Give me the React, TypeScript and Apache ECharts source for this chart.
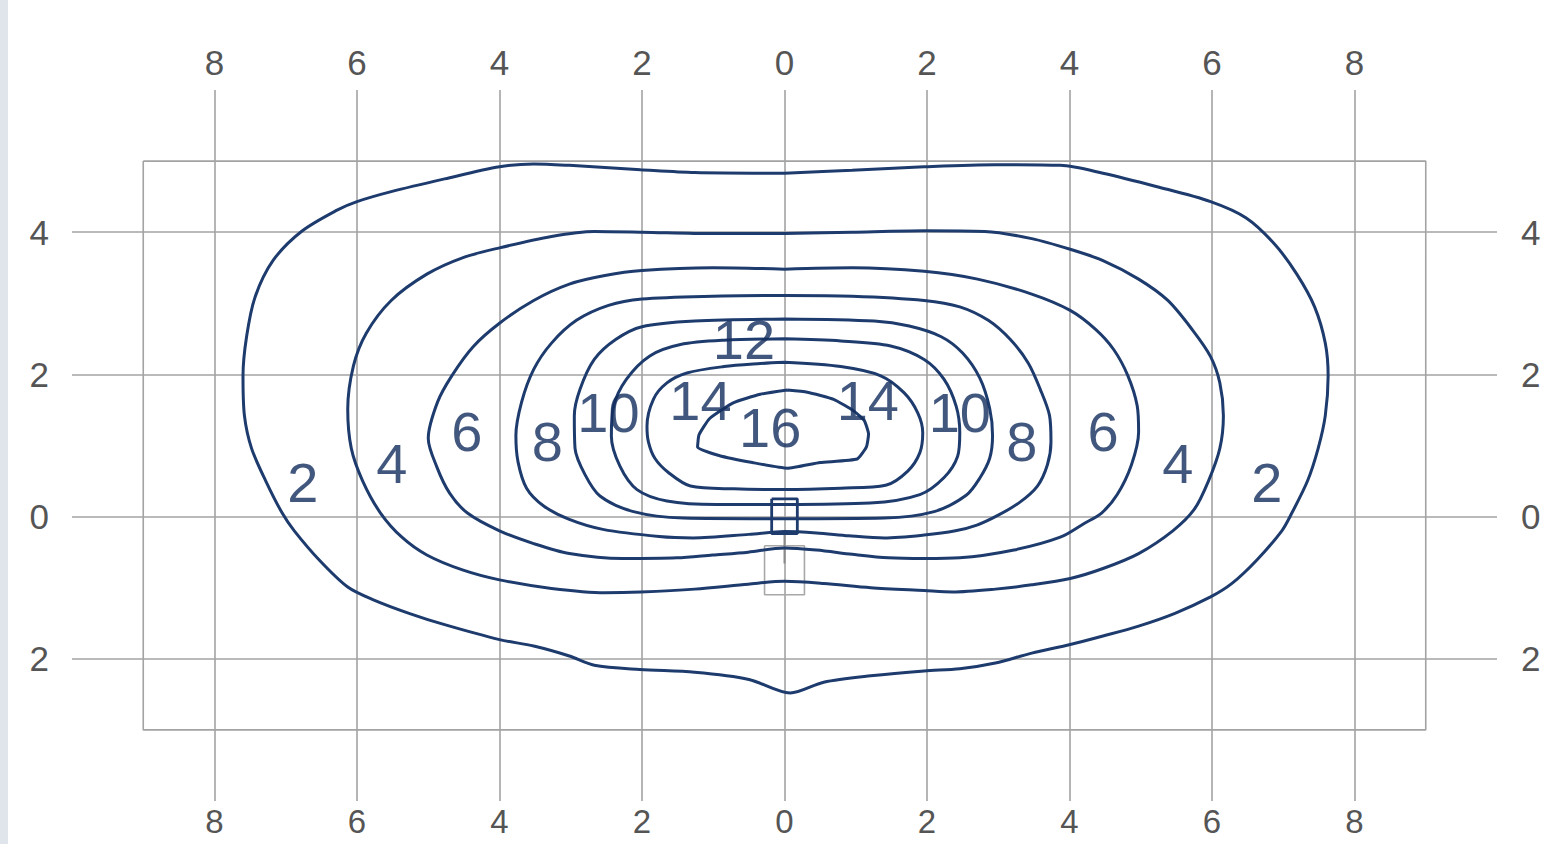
import React, { useEffect, useRef } from "react";
import * as echarts from "echarts";

// ---- data (metres, values) ----
const xRange = [-10, 10];
const yRange = [-4, 6];
const tickStep = 2;

const contourLevels = [2, 4, 6, 8, 10, 12, 14, 16];

const contour2: [number, number][] = [
  [0, 4.83], [0.95, 4.87], [1.96, 4.92], [2.96, 4.95], [3.87, 4.94], [4.47, 4.83], [5.23, 4.64],
  [5.98, 4.43], [6.48, 4.2], [6.88, 3.83], [7.19, 3.41], [7.44, 2.95], [7.59, 2.44], [7.63, 1.98],
  [7.59, 1.42], [7.49, 0.96], [7.34, 0.5], [7.12, 0.05], [6.98, -0.2], [6.63, -0.61], [6.28, -0.94],
  [5.98, -1.13], [5.48, -1.36], [4.97, -1.54], [4.47, -1.68], [4.01, -1.8], [3.47, -1.92],
  [2.96, -2.06], [2.46, -2.14], [1.96, -2.17], [1.21, -2.24], [0.55, -2.33], [0.08, -2.48],
  [-0.5, -2.29], [-1.26, -2.19], [-2.03, -2.15], [-2.67, -2.09], [-3.02, -1.96], [-3.52, -1.82],
  [-4, -1.73], [-4.77, -1.52], [-5.27, -1.36], [-5.77, -1.17], [-6.13, -0.99], [-6.53, -0.61],
  [-6.88, -0.2], [-7.05, 0.05], [-7.28, 0.5], [-7.48, 0.96], [-7.58, 1.42], [-7.6, 1.98],
  [-7.55, 2.53], [-7.43, 3.09], [-7.18, 3.6], [-6.78, 4.01], [-6.28, 4.31], [-6, 4.43],
  [-5.52, 4.57], [-4.77, 4.75], [-4, 4.92], [-3.52, 4.96], [-3.02, 4.94], [-2.02, 4.88],
  [-1.26, 4.84], [0, 4.83],
];

const contour4: [number, number][] = [
  [0, 3.98], [0.95, 4.0], [1.96, 4.02], [2.81, 4.01], [3.47, 3.91], [4.01, 3.76], [4.47, 3.6],
  [4.97, 3.34], [5.38, 3.04], [5.73, 2.62], [5.98, 2.25], [6.11, 1.88], [6.16, 1.42], [6.11, 0.96],
  [5.95, 0.5], [5.75, 0.1], [5.45, -0.2], [4.97, -0.52], [4.47, -0.73], [4.01, -0.87], [3.47, -0.96],
  [2.96, -1.02], [2.36, -1.06], [1.96, -1.04], [1.21, -1.0], [0.55, -0.94], [0, -0.91],
  [-0.51, -0.95], [-1.26, -1.02], [-2.02, -1.06], [-2.52, -1.07], [-3.27, -1.01], [-4, -0.89],
  [-4.52, -0.75], [-5.02, -0.54], [-5.37, -0.29], [-5.67, 0.05], [-5.92, 0.5], [-6.08, 0.96],
  [-6.13, 1.51], [-6.05, 2.12], [-5.87, 2.58], [-5.52, 3.04], [-5.02, 3.41], [-4.52, 3.64],
  [-4, 3.78], [-3.27, 3.94], [-2.67, 4.01], [-2, 4.0], [-1.01, 3.98], [0, 3.98],
];

const contour6: [number, number][] = [
  [0, 3.48], [0.95, 3.5], [1.96, 3.45], [2.71, 3.34], [3.47, 3.13], [4.01, 2.9], [4.37, 2.63],
  [4.62, 2.35], [4.82, 1.98], [4.95, 1.56], [4.97, 1.19], [4.87, 0.73], [4.67, 0.31], [4.45, 0.05],
  [4.2, -0.1], [3.87, -0.29], [3.22, -0.47], [2.46, -0.58], [1.96, -0.59], [1.46, -0.58],
  [0.95, -0.53], [0.45, -0.47], [0, -0.44], [-0.51, -0.5], [-1.01, -0.54], [-1.51, -0.58],
  [-2.27, -0.59], [-3.02, -0.52], [-3.52, -0.38], [-4, -0.2], [-4.45, 0.05], [-4.7, 0.33],
  [-4.88, 0.7], [-5.0, 1.1], [-4.87, 1.61], [-4.67, 1.98], [-4.37, 2.39], [-4, 2.72],
  [-3.52, 3.04], [-3.02, 3.27], [-2.52, 3.39], [-2, 3.46], [-1.01, 3.5], [0, 3.48],
];

const contour8: [number, number][] = [
  [0, 3.11], [0.95, 3.1], [1.96, 3.04], [2.46, 2.95], [2.86, 2.76], [3.17, 2.49], [3.42, 2.16],
  [3.59, 1.79], [3.72, 1.42], [3.74, 1.05], [3.69, 0.73], [3.55, 0.43], [3.3, 0.2], [3.0, 0.02],
  [2.7, -0.12], [2.4, -0.2], [1.96, -0.26], [1.4, -0.3], [0.9, -0.27], [0.45, -0.23], [0, -0.21],
  [-0.5, -0.25], [-1.28, -0.3], [-1.76, -0.28], [-2.55, -0.18], [-3.02, -0.04], [-3.38, 0.15],
  [-3.62, 0.4], [-3.74, 0.77], [-3.77, 1.14], [-3.69, 1.61], [-3.52, 2.07], [-3.27, 2.44],
  [-2.92, 2.76], [-2.47, 2.97], [-2, 3.06], [-1.01, 3.1], [0, 3.11],
];

const contour10: [number, number][] = [
  [0, 2.78], [1.26, 2.75], [1.75, 2.68], [2.2, 2.53], [2.5, 2.3], [2.74, 1.95], [2.88, 1.52],
  [2.92, 1.14], [2.88, 0.82], [2.74, 0.54], [2.55, 0.3], [2.1, 0.07], [1.4, -0.02], [0, -0.03],
  [-1.42, -0.02], [-2.12, 0.07], [-2.59, 0.29], [-2.8, 0.59], [-2.94, 0.96], [-2.95, 1.42],
  [-2.87, 1.79], [-2.67, 2.21], [-2.37, 2.49], [-2, 2.67], [-1.26, 2.75], [0, 2.78],
];

const contour12: [number, number][] = [
  [0, 2.5], [0.79, 2.47], [1.49, 2.4], [1.96, 2.21], [2.24, 1.93], [2.41, 1.55], [2.46, 1.18],
  [2.43, 0.85], [2.24, 0.55], [1.9, 0.31], [1.2, 0.19], [0, 0.17], [-0.95, 0.17], [-1.65, 0.22],
  [-2.07, 0.38], [-2.31, 0.71], [-2.43, 1.13], [-2.4, 1.55], [-2.22, 1.93], [-1.89, 2.26],
  [-1.46, 2.42], [-0.85, 2.48], [0, 2.5],
];

const contour14: [number, number][] = [
  [0, 2.17], [0.79, 2.11], [1.35, 1.98], [1.68, 1.74], [1.87, 1.46], [1.94, 1.18], [1.9, 0.9],
  [1.73, 0.64], [1.42, 0.44], [0.79, 0.4], [0, 0.38], [-0.71, 0.39], [-1.32, 0.43], [-1.63, 0.62],
  [-1.82, 0.82], [-1.91, 1.05], [-1.93, 1.27], [-1.84, 1.65], [-1.65, 1.88], [-1.37, 2.02],
  [-0.85, 2.11], [-0.38, 2.15], [0, 2.17],
];

const contour16: [number, number][] = [
  [0.04, 1.78], [0.32, 1.75], [0.69, 1.65], [0.98, 1.48], [1.12, 1.35], [1.18, 1.16], [1.15, 0.98],
  [1.02, 0.81], [0.5, 0.76], [0.04, 0.68], [-0.45, 0.76], [-0.92, 0.86], [-1.22, 0.98],
  [-1.2, 1.15], [-1.05, 1.38], [-0.72, 1.6], [-0.34, 1.72], [0.04, 1.78],
];

const contours = [contour2, contour4, contour6, contour8, contour10, contour12, contour14, contour16];

const labelX = [-6.76, -5.51, -4.46, -3.33, -2.47, -1.18, -0.2, -0.57, 1.17, 2.46, 3.33, 4.47, 5.52, 6.77];
const labelY = [0.48, 0.75, 1.2, 1.06, 1.47, 1.63, 1.25, 2.49, 1.63, 1.47, 1.06, 1.2, 0.75, 0.48];
const labelText = ["2", "4", "6", "8", "10", "14", "16", "12", "14", "10", "8", "6", "4", "2"];

const fieldRect: [number, number][] = [[-9, 5], [9, 5], [9, -3], [-9, -3], [-9, 5]];
const lampBody: [number, number][] = [[-0.18, 0.25], [0.18, 0.25], [0.18, -0.24], [-0.18, -0.24], [-0.18, 0.25]];
const lampBase: [number, number][] = [[-0.28, -0.41], [0.28, -0.41], [0.28, -1.1], [-0.28, -1.1], [-0.28, -0.41]];
const lampStem: [number, number][] = [[0, -0.24], [0, -0.66]];
const lampCross: [number, number][] = [[-0.08, -0.44], [0.08, -0.44]];

const NAVY = "#1e3b6e";
const LABEL = "#132d5c";
const GRID = "#a3a3a3";
const TICK = "#555555";
const FONT = "'Liberation Sans', Arial, sans-serif";

export default function App() {
  const ref = useRef<HTMLDivElement>(null);

  useEffect(() => {
    document.body.style.margin = "0";
    document.body.style.overflow = "hidden";
    if (!ref.current) return;
    const chart = echarts.init(ref.current, undefined, { renderer: "svg" });

    const absFmt = (v: number) => String(Math.abs(v));
    const axisLabel = (margin: number, size: number) => ({
      formatter: absFmt,
      showMinLabel: false,
      showMaxLabel: false,
      fontSize: size,
      color: TICK,
      fontFamily: FONT,
      margin,
    });
    const splitLine = (show: boolean) => ({
      show,
      showMinLine: false,
      showMaxLine: false,
      lineStyle: { color: GRID, width: 1.6 },
    });
    const baseX = (position: "top" | "bottom", margin: number, split: boolean, size: number) => ({
      type: "value",
      position,
      min: xRange[0],
      max: xRange[1],
      interval: tickStep,
      axisLine: { show: false },
      axisTick: { show: false },
      axisLabel: axisLabel(margin, size),
      splitLine: splitLine(split),
    });
    const baseY = (position: "left" | "right", margin: number, split: boolean) => ({
      type: "value",
      position,
      min: yRange[0],
      max: yRange[1],
      interval: tickStep,
      axisLine: { show: false },
      axisTick: { show: false },
      axisLabel: axisLabel(margin, 35),
      splitLine: splitLine(split),
    });

    const lineSeries = (data: [number, number][], color: string, width: number, smooth: number | boolean, z: number) => ({
      type: "line",
      data,
      xAxisIndex: 0,
      yAxisIndex: 0,
      showSymbol: false,
      symbol: "none",
      smooth,
      silent: true,
      z,
      lineStyle: { color, width },
    });

    const series: any[] = [
      lineSeries(fieldRect, GRID, 1.6, false, 2),
      lineSeries(lampBase, "#a8a8a8", 1.6, false, 2),
      lineSeries(lampStem, "#8a8a8a", 2, false, 2),
      lineSeries(lampCross, "#8a8a8a", 2, false, 2),
      ...contours.map((c, i) => ({
        ...lineSeries(c, NAVY, 3, i === contours.length - 1 ? 0.15 : 0.3, 3),
        name: "E " + contourLevels[i],
      })),
      lineSeries(lampBody, NAVY, 2.8, false, 4),
      {
        type: "scatter",
        xAxisIndex: 0,
        yAxisIndex: 0,
        symbolSize: 1,
        silent: true,
        z: 5,
        itemStyle: { color: "rgba(0,0,0,0)" },
        data: labelX.map((x, i) => [x, labelY[i], labelText[i]]),
        label: {
          show: true,
          position: "inside",
          formatter: (p: any) => p.value[2],
          fontSize: 56,
          fontFamily: FONT,
          color: LABEL,
          textBorderWidth: 0,
        },
      },
    ];

    chart.setOption({
      animation: false,
      backgroundColor: "#ffffff",
      grid: { left: 72, right: 52, top: 90, bottom: 43 },
      xAxis: [baseX("bottom", 4, true, 33), baseX("top", 10, false, 35)],
      yAxis: [baseY("left", 23, true), baseY("right", 24, false)],
      series,
    });

    return () => chart.dispose();
  }, []);

  return (
    <div style={{ position: "relative", width: 1549, height: 844, background: "#fff" }}>
      <div ref={ref} style={{ position: "absolute", left: 0, top: 0, width: 1549, height: 844 }} />
      <div style={{ position: "absolute", left: 0, top: 0, width: 8, height: 844, background: "#dfe5ea" }} />
    </div>
  );
}
